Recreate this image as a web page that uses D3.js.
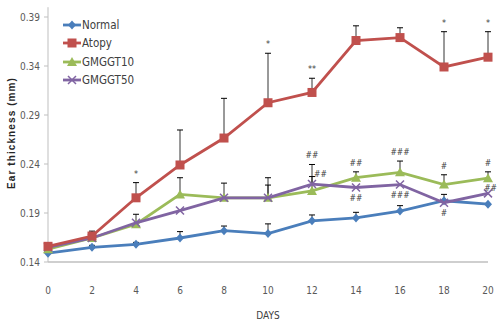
<!DOCTYPE html>
<html><head><meta charset="utf-8">
<script src="https://cdn.jsdelivr.net/npm/d3@7"></script>
<style>
body{margin:0;background:#fff;}
text{font-family:"Liberation Sans Narrow","Arial Narrow","DejaVu Sans Condensed",sans-serif;}
</style></head>
<body><svg id="c" width="498" height="325"></svg>
<script>
const days = [0,2,4,6,8,10,12,14,16,18,20];
const yTicks = [0.14,0.19,0.24,0.29,0.34,0.39];
const seriesNames = ["Normal","Atopy","GMGGT10","GMGGT50"];
const normal = [0.149,0.155,0.158,0.1645,0.172,0.169,0.182,0.185,0.192,0.2025,0.199];
const atopy  = [0.156,0.1665,0.2055,0.239,0.2665,0.3025,0.313,0.366,0.369,0.339,0.349];
const gm10   = [0.153,0.1645,0.1785,0.209,0.2055,0.2055,0.2125,0.226,0.2315,0.219,0.2255];
const gm50   = [0.155,0.1645,0.180,0.1925,0.2055,0.2055,0.2195,0.216,0.219,0.2005,0.210];
const normalErr = [0.002,0.002,0.002,0.0065,0.0047,0.0099,0.006,0.0057,0.0055,0.0065,0];
const atopyErr  = [0.003,0.005,0.0155,0.0357,0.0405,0.0505,0.0145,0.015,0.010,0.036,0.026];
const gm10Err   = [0,0,0,0.017,0,0.0205,0.027,0.006,0.0115,0.010,0.0065];
const gm50Err   = [0,0,0.0087,0,0.015,0.013,0.0077,0,0,0,0];
// significance marks: [series index, day, label, placement]
const marks = [
  [1,4,"*","above"],[1,10,"*","above"],[1,12,"**","above"],[1,18,"*","above"],[1,20,"*","above"],
  [2,12,"##","above"],[2,14,"##","above"],[2,16,"###","above"],[2,18,"#","above"],[2,20,"#","above"],
  [3,12,"##","right"],[3,14,"##","below"],[3,16,"###","below"],[3,18,"#","below"],[3,20,"##","right"]
];
const values = [normal, atopy, gm10, gm50];
const errs = [normalErr, atopyErr, gm10Err, gm50Err];
const colors = ["#4a7ebb","#c0504d","#9bbb59","#8064a2"];

const svg = d3.select("#c");
const x = d3.scaleLinear().domain([0,20]).range([48,488]);
const y = d3.scaleLinear().domain([0.14,0.40]).range([262,7.2]);

// axes
svg.append("line").attr("x1",48).attr("x2",48).attr("y1",y(0.40)).attr("y2",262).attr("stroke","#bfbfbf");
svg.append("line").attr("x1",48).attr("x2",488).attr("y1",262).attr("y2",262).attr("stroke","#bfbfbf").attr("stroke-width",1.5);
const ya = svg.append("g");
yTicks.forEach(t=>{
  ya.append("line").attr("x1",44).attr("x2",48).attr("y1",y(t)).attr("y2",y(t)).attr("stroke","#bfbfbf");
  ya.append("text").attr("x",40).attr("y",y(t)).attr("dy","0.35em").attr("text-anchor","end")
    .attr("font-size",10).attr("fill","#595959").text(t.toFixed(2));
});
days.forEach(d=>{
  svg.append("text").attr("x",x(d)).attr("y",290).attr("dy","0.35em").attr("text-anchor","middle")
    .attr("font-size",10).attr("fill","#595959").text(d);
});
svg.append("text").attr("x",268).attr("y",315).attr("dy","0.35em").attr("text-anchor","middle")
  .attr("font-size",10).attr("fill","#404040").text("DAYS");
svg.append("text").attr("transform","translate(15,133) rotate(-90)").attr("text-anchor","middle")
  .attr("font-size",10).attr("font-weight","bold").attr("letter-spacing",1.1).attr("fill","#262626")
  .style("font-family","'Liberation Sans',Arial,sans-serif").text("Ear  thickness  (mm)");

// markers
function marker(g, i, cx, cy){
  const c = colors[i];
  if(i===0) g.append("path").attr("d",`M${cx},${cy-4.5}L${cx+4},${cy}L${cx},${cy+4.5}L${cx-4},${cy}Z`).attr("fill",c);
  else if(i===1) g.append("rect").attr("x",cx-4.5).attr("y",cy-4.5).attr("width",9).attr("height",9).attr("fill",c);
  else if(i===2) g.append("path").attr("d",`M${cx},${cy-5}L${cx+5},${cy+4}L${cx-5},${cy+4}Z`).attr("fill",c);
  else g.append("path").attr("d",`M${cx-4},${cy-4}L${cx+4},${cy+4}M${cx-4},${cy+4}L${cx+4},${cy-4}`).attr("stroke",c).attr("stroke-width",1.5);
}

// error bars (draw below lines)
const eb = svg.append("g");
values.forEach((vals,i)=>{
  vals.forEach((v,j)=>{
    const e = errs[i][j];
    if(e<=0) return;
    const px = x(days[j]);
    eb.append("line").attr("x1",px).attr("x2",px).attr("y1",y(v)).attr("y2",y(v+e)).attr("stroke","#000").attr("stroke-width",0.8);
    eb.append("line").attr("x1",px-3).attr("x2",px+3).attr("y1",y(v+e)).attr("y2",y(v+e)).attr("stroke","#000").attr("stroke-width",1);
  });
});

const line = d3.line().x((d,j)=>x(days[j])).y(d=>y(d));
[0,2,3,1].forEach(i=>{
  svg.append("path").datum(values[i]).attr("d",line).attr("fill","none").attr("stroke",colors[i]).attr("stroke-width",2.8);
  const g = svg.append("g");
  values[i].forEach((v,j)=>marker(g,i,x(days[j]),y(v)));
});

// significance marks
marks.forEach(([si,d,lab,pl])=>{
  const j = days.indexOf(d);
  const v = values[si][j], e = errs[si][j];
  let tx = x(d), ty, anchor="middle";
  if(pl==="above"){ ty = y(v+e) - 6; }
  else if(pl==="below"){ ty = y(v) + 13; }
  else if(x(d)+14 > 498){ tx = 497; ty = y(v+e) - 2; anchor="end"; }
  else { tx = x(d)+2; ty = y(v+e); anchor="start"; }
  const isStar = lab.indexOf("*")>=0;
  svg.append("text").attr("x",tx).attr("y",ty).attr("text-anchor",anchor)
    .attr("font-size",isStar?9:8.5).attr("fill","#404040").text(lab);
});

// legend
seriesNames.forEach((n,i)=>{
  const ly = [25,43,62,80][i];
  svg.append("line").attr("x1",63).attr("x2",81).attr("y1",ly).attr("y2",ly).attr("stroke",colors[i]).attr("stroke-width",2.8);
  const g = svg.append("g"); marker(g,i,72,ly);
  svg.append("text").attr("x",82).attr("y",ly).attr("dy","0.35em").attr("font-size",11.5).attr("fill","#404040").text(n);
});
</script></body></html>
